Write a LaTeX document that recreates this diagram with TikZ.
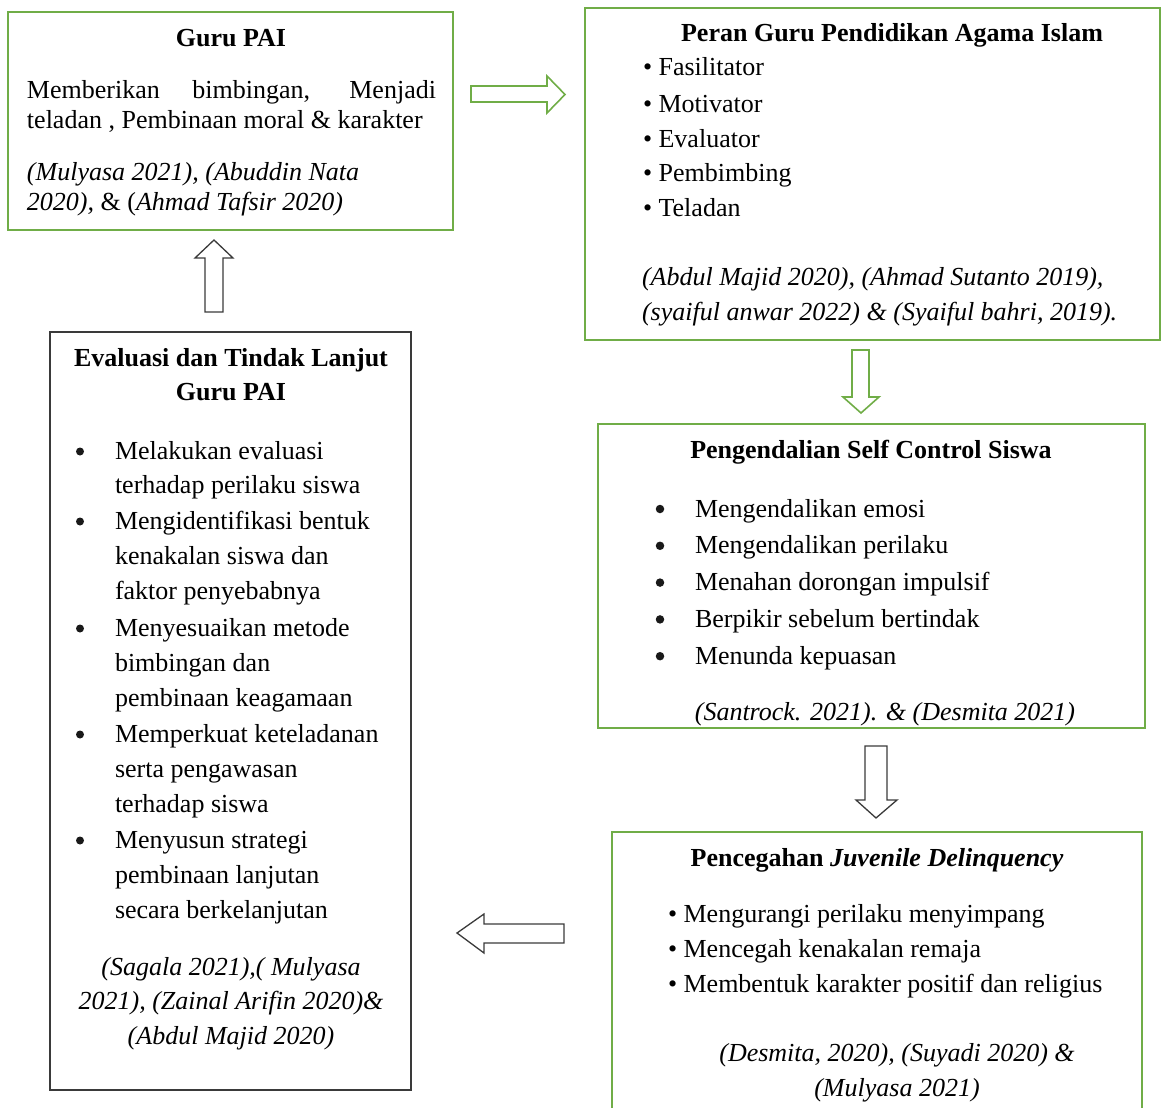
\documentclass[tikz,border=0pt]{standalone}
\usepackage{fontspec}
\setmainfont{Liberation Serif}
\definecolor{pgreen}{HTML}{70AD47}
\definecolor{pgray}{HTML}{3A3A3A}
\begin{document}
\begin{tikzpicture}[x=1pt,y=-1pt,
  every node/.style={font=\fontsize{26}{31}\selectfont, inner sep=0pt, outer sep=0pt},
  gbox/.style={draw=pgreen, line width=2pt, rectangle},
  kbox/.style={draw=pgray, line width=1.6pt, rectangle},
  lt/.style={anchor=base west},
  ct/.style={anchor=base},
  hd/.style={anchor=base, font=\fontsize{26}{31}\selectfont\bfseries},
  it/.style={font=\fontsize{26}{31}\selectfont\itshape},
  dot/.style={circle, fill=black!90, minimum size=8.5pt},
  garrow/.style={draw=pgreen, line width=1.6pt, line join=miter},
  karrow/.style={draw=pgray, line width=1.3pt, line join=miter}]
\useasboundingbox (0,0) rectangle (1162,1108);

% boxes
\node[gbox, minimum width=445pt, minimum height=218pt] (guru) at (230.5,121) {};
\node[gbox, minimum width=575pt, minimum height=332pt] (peran) at (872.5,174) {};
\node[gbox, minimum width=547pt, minimum height=304pt] (self) at (871.5,576) {};
\node[gbox, minimum width=530pt, minimum height=285pt] (cegah) at (877,974.5) {};
\node[kbox, minimum width=361pt, minimum height=758pt] (eval) at (230.5,711) {};

% Guru PAI
\node[hd] (g0) at (231,47) {Guru PAI};
\node[lt] (g1) at (27,98) {\makebox[409pt][s]{Memberikan bimbingan, Menjadi}};
\node[lt] (g2) at (27,128) {teladan , Pembinaan moral \& karakter};
\node[lt, it] (g3) at (27,180) {(Mulyasa 2021), (Abuddin Nata};
\node[lt] (g4) at (27,210) {\textit{2020),} \& (\textit{Ahmad Tafsir 2020)}};

% Peran
\node[hd] (p0) at (892,42) {Peran Guru Pendidikan Agama Islam};
\node[lt] (p1) at (643,76) {\textbullet\ Fasilitator};
\node[lt] (p2) at (643,112) {\textbullet\ Motivator};
\node[lt] (p3) at (643,147) {\textbullet\ Evaluator};
\node[lt] (p4) at (643,181) {\textbullet\ Pembimbing};
\node[lt] (p5) at (643,216) {\textbullet\ Teladan};
\node[lt, it] (p6) at (642,285) {(Abdul Majid 2020), (Ahmad Sutanto 2019),};
\node[lt, it] (p7) at (642,320) {(syaiful anwar 2022) \& (Syaiful bahri, 2019).};

% Self control
\node[hd] (s0) at (871,458) {Pengendalian Self Control Siswa};
\foreach \t [count=\i] in {Mengendalikan emosi, Mengendalikan perilaku, Menahan dorongan impulsif, Berpikir sebelum bertindak, Menunda kepuasan}{
  \node[dot] (sb\i) at (660,{517+36.8*(\i-1)-8}) {};
  \node[lt] (s\i) at (695,{517+36.8*(\i-1)}) {\t};
}
\node[ct, it] (s6) at (885,720) {(Santrock. 2021). \& (Desmita 2021)};

% Pencegahan
\node[hd] (c0) at (877,866) {Pencegahan \textit{Juvenile Delinquency}};
\node[lt] (c1) at (668,922) {\textbullet\ Mengurangi perilaku menyimpang};
\node[lt] (c2) at (668,957) {\textbullet\ Mencegah kenakalan remaja};
\node[lt] (c3) at (668,992) {\textbullet\ Membentuk karakter positif dan religius};
\node[ct, it] (c4) at (897,1061) {(Desmita, 2020), (Suyadi 2020) \&};
\node[ct, it] (c5) at (897,1096) {(Mulyasa 2021)};

% Evaluasi
\node[hd] (e0) at (231,366) {Evaluasi dan Tindak Lanjut};
\node[hd] (e00) at (231,400) {Guru PAI};
\foreach \y in {459,529,636,742,848}{
  \node[dot, minimum size=8pt] (eb\y) at (80,\y-7.5) {};
}
\node[lt] (e1) at (115,459) {Melakukan evaluasi};
\node[lt] (e2) at (115,493) {terhadap perilaku siswa};
\node[lt] (e3) at (115,529) {Mengidentifikasi bentuk};
\node[lt] (e4) at (115,564) {kenakalan siswa dan};
\node[lt] (e5) at (115,599) {faktor penyebabnya};
\node[lt] (e6) at (115,636) {Menyesuaikan metode};
\node[lt] (e7) at (115,671) {bimbingan dan};
\node[lt] (e8) at (115,706) {pembinaan keagamaan};
\node[lt] (e9) at (115,742) {Memperkuat keteladanan};
\node[lt] (e10) at (115,777) {serta pengawasan};
\node[lt] (e11) at (115,812) {terhadap siswa};
\node[lt] (e12) at (115,848) {Menyusun strategi};
\node[lt] (e13) at (115,883) {pembinaan lanjutan};
\node[lt] (e14) at (115,918) {secara berkelanjutan};
\node[ct, it] (e15) at (231,975) {(Sagala 2021),( Mulyasa};
\node[ct, it] (e16) at (231,1009) {2021), (Zainal Arifin 2020)\&};
\node[ct, it] (e17) at (231,1044) {(Abdul Majid 2020)};

% block arrows
\draw[garrow] (471,86) -- (547,86) -- (547,76) -- (565,94.5) -- (547,113) -- (547,102) -- (471,102) -- cycle;
\draw[karrow] (205,312) -- (205,258) -- (195,258) -- (214,240) -- (233,258) -- (223,258) -- (223,312) -- cycle;
\draw[garrow] (852,350) -- (869,350) -- (869,397) -- (879,397) -- (861,413) -- (843,397) -- (852,397) -- cycle;
\draw[karrow] (865,746) -- (887,746) -- (887,800) -- (897,800) -- (876,818) -- (856,800) -- (865,800) -- cycle;
\draw[karrow] (564,924) -- (484,924) -- (484,914) -- (457,933) -- (484,953) -- (484,943) -- (564,943) -- cycle;
\end{tikzpicture}
\end{document}
